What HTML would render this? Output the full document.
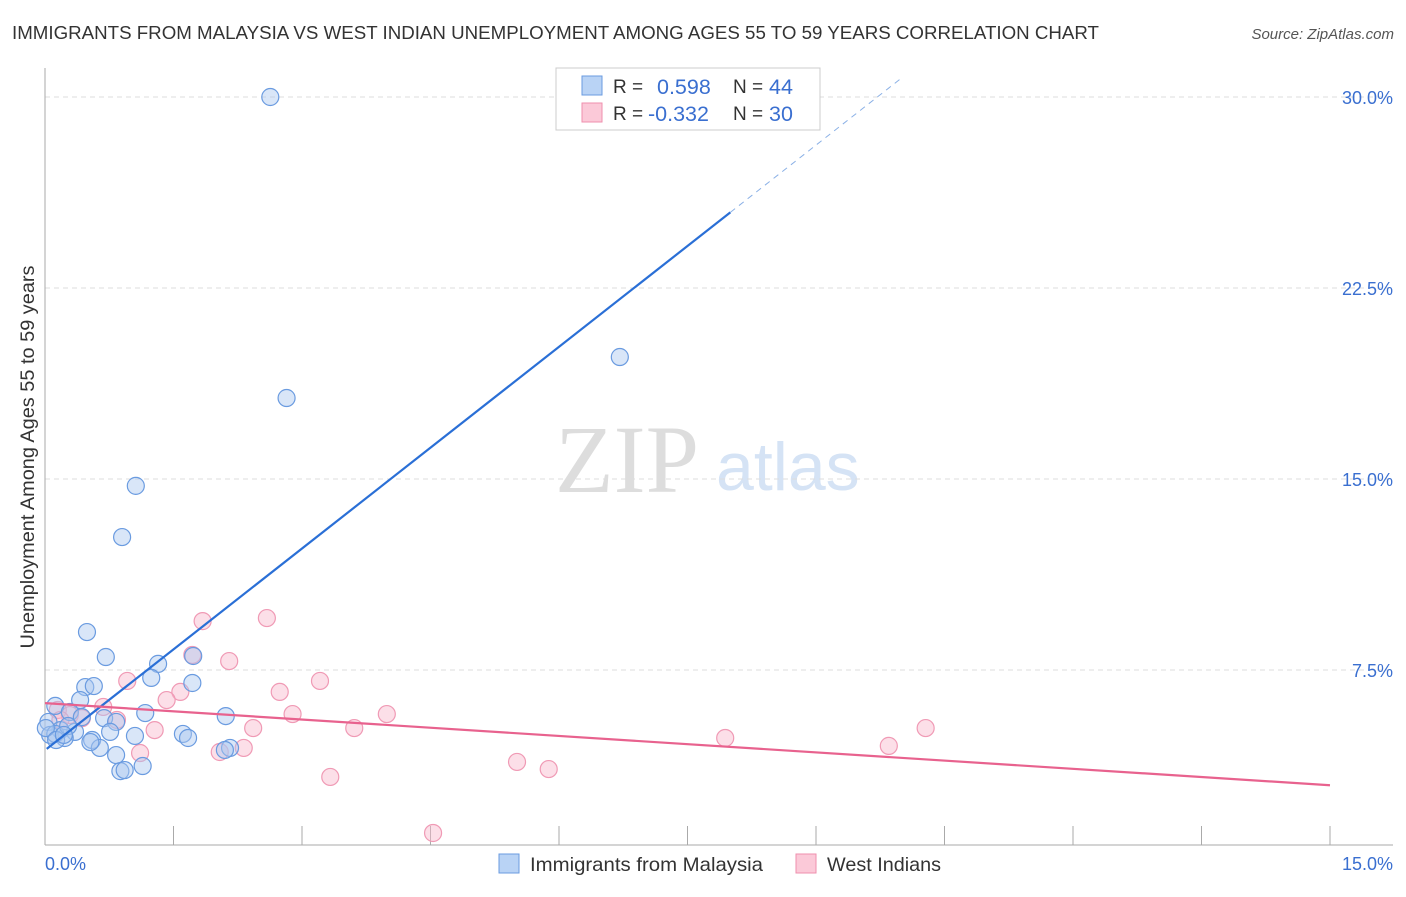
<!DOCTYPE html>
<html><head><meta charset="utf-8"><style>
body{margin:0;background:#fff;font-family:"Liberation Sans",sans-serif;}
</style></head><body>
<svg id="chart" width="1406" height="892" font-family="Liberation Sans, sans-serif">
<text x="12" y="39" font-size="18" fill="#333" textLength="1087" lengthAdjust="spacingAndGlyphs">IMMIGRANTS FROM MALAYSIA VS WEST INDIAN UNEMPLOYMENT AMONG AGES 55 TO 59 YEARS CORRELATION CHART</text>
<text x="1394" y="39" font-size="15" fill="#555" font-style="italic" text-anchor="end">Source: ZipAtlas.com</text>
<text x="555" y="492" font-size="96" fill="#ddd" style="font-family:'Liberation Serif',serif">ZIP</text>
<text x="716" y="490" font-size="68" fill="#d5e3f5">atlas</text>
<text transform="translate(34,457) rotate(-90)" font-size="19" fill="#333" text-anchor="middle" textLength="383" lengthAdjust="spacingAndGlyphs">Unemployment Among Ages 55 to 59 years</text>
<g id="grid"></g><g id="axes"></g><g id="pts"></g><g id="lines"></g>
<g>
<rect x="556" y="68" width="264" height="62" fill="#fff" stroke="#ccc"/>
<rect x="582" y="76" width="20" height="19" fill="#b9d3f5" stroke="#6a9be0"/>
<rect x="582" y="103" width="20" height="19" fill="#fbc9d8" stroke="#ef8fae"/>
<text x="613" y="93" font-size="19" fill="#333">R = </text><text x="657" y="94" font-size="21.5" fill="#3a6fd0">0.598</text>
<text x="733" y="93" font-size="19" fill="#333">N = </text><text x="769" y="94" font-size="21.5" fill="#3a6fd0">44</text>
<text x="613" y="120" font-size="19" fill="#333">R = </text><text x="648" y="121" font-size="21.5" fill="#3a6fd0">-0.332</text>
<text x="733" y="120" font-size="19" fill="#333">N = </text><text x="769" y="121" font-size="21.5" fill="#3a6fd0">30</text>
</g>
<g>
<rect x="499" y="854" width="20" height="19" fill="#b9d3f5" stroke="#6a9be0"/>
<text x="530" y="871" font-size="19.5" fill="#333" textLength="233" lengthAdjust="spacingAndGlyphs">Immigrants from Malaysia</text>
<rect x="796" y="854" width="20" height="19" fill="#fbc9d8" stroke="#ef8fae"/>
<text x="827" y="871" font-size="19.5" fill="#333" textLength="114" lengthAdjust="spacingAndGlyphs">West Indians</text>
</g>
</svg>
<script>
const yTicks=[7.5,15,22.5,30];
const yTickLabels=["7.5%","15.0%","22.5%","30.0%"];
const xTickLabels=["0.0%","15.0%"];
const blueX=[2.63,2.82,6.71,1.06,0.90,0.49,0.71,1.32,1.24,1.72,0.47,0.57,0.41,0.12,0.04,0.29,0.43,0.69,0.83,1.17,2.11,0.18,0.35,0.06,0.23,0.76,0.55,0.64,1.05,1.61,1.67,0.83,2.16,2.10,1.14,0.88,0.93,1.73,0.12,0.27,0.01,0.13,0.53,0.22];
const blueY=[30.0,18.18,19.79,14.73,12.72,8.99,8.01,7.74,7.19,6.99,6.83,6.87,6.32,6.09,5.46,5.85,5.65,5.61,5.46,5.81,5.69,5.14,5.07,4.95,4.83,5.07,4.75,4.44,4.91,4.99,4.83,4.16,4.44,4.36,3.73,3.53,3.57,8.05,4.99,5.30,5.22,4.75,4.67,4.95];
const pinkX=[1.84,2.59,1.72,2.15,0.96,3.21,1.58,1.42,2.74,2.89,3.99,0.68,0.84,0.15,0.29,0.43,1.28,2.43,3.61,1.11,2.04,2.32,3.33,4.53,5.51,5.88,7.94,9.85,10.28,0.18];
const pinkY=[9.42,9.54,8.09,7.85,7.07,7.07,6.64,6.32,6.64,5.77,5.77,6.05,5.54,5.93,5.73,5.61,5.14,5.22,5.22,4.24,4.28,4.44,3.30,1.10,3.89,3.61,4.83,4.52,5.22,5.54];
const blueTrend=[4.35,2.64];
const pinkTrend=[6.20,-0.215];
const X=v=>45+v*1285/15, Y=v=>861-v*191/7.5;
const NS="http://www.w3.org/2000/svg";
function mk(t,a,p){const e=document.createElementNS(NS,t);for(const k in a)e.setAttribute(k,a[k]);document.getElementById(p).appendChild(e);return e;}
yTicks.forEach((t,i)=>{
 const l=mk('line',{x1:45,x2:1393,y1:Y(t),y2:Y(t),stroke:'#ddd','stroke-dasharray':'5,4'},'grid');
 
 
 const tx=mk('text',{x:1393,y:Y(t)+7,'font-size':18,fill:'#3a6fd0','text-anchor':'end'},'grid');tx.textContent=yTickLabels[i];
 
 
});
mk('line',{x1:45,x2:45,y1:68,y2:845,stroke:'#aaa'},'axes');
mk('line',{x1:45,x2:1393,y1:845,y2:845,stroke:'#aaa'},'axes');
for(let i=1;i<=10;i++){const l=mk('line',{x1:X(i*1.5),x2:X(i*1.5),y1:826,y2:845,stroke:'#aaa'},'axes');
 
 }
[[0,'start',45],[15,'end',1393]].forEach((d,i)=>{const t=mk('text',{x:d[2],y:870,'font-size':18,fill:'#3a6fd0','text-anchor':d[1]},'axes');t.textContent=xTickLabels[i];
 
 });
pinkX.forEach((x,i)=>{const c=mk('circle',{cx:X(x),cy:Y(pinkY[i]),r:8.5,fill:'rgba(248,185,205,0.45)',stroke:'#f09ab5','stroke-width':1.2},'pts');
 
 });
blueX.forEach((x,i)=>{const c=mk('circle',{cx:X(x),cy:Y(blueY[i]),r:8.5,fill:'rgba(170,200,240,0.45)',stroke:'#6a9be0','stroke-width':1.2},'pts');
 
 });
const bl=mk('line',{x1:X(0.02),y1:Y(blueTrend[0]+blueTrend[1]*0.02),x2:X(8),y2:Y(blueTrend[0]+blueTrend[1]*8),stroke:'#2a6fd6','stroke-width':2.2},'lines');


const bd=mk('line',{x1:X(8),y1:Y(blueTrend[0]+blueTrend[1]*8),x2:X(10),y2:Y(blueTrend[0]+blueTrend[1]*10),stroke:'#8ab0e6','stroke-width':1,'stroke-dasharray':'6,5'},'lines');


const pl=mk('line',{x1:X(0),y1:Y(pinkTrend[0]),x2:X(15),y2:Y(pinkTrend[0]+pinkTrend[1]*15),stroke:'#e8628e','stroke-width':2.2},'lines');


</script>
</body></html>
